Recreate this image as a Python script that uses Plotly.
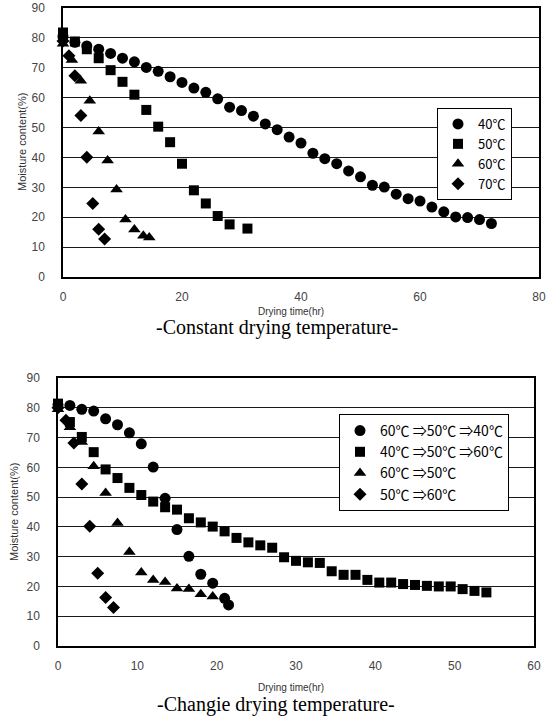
import plotly.graph_objects as go

W, H = 551, 719

# ---------------- Top chart: constant drying temperature ----------------
top_x_ticks = [0, 20, 40, 60, 80]
y_ticks = [0, 10, 20, 30, 40, 50, 60, 70, 80, 90]

t40 = [0, 2, 4, 6, 8, 10, 12, 14, 16, 18, 20, 22, 24, 26, 28, 30, 32, 34, 36,
       38, 40, 42, 44, 46, 48, 50, 52, 54, 56, 58, 60, 62, 64, 66, 68, 70, 72]
m40 = [80.5, 78.5, 77.3, 76.2, 74.8, 73.2, 72.0, 70.1, 68.8, 67.0, 65.1, 63.2,
       61.8, 59.6, 56.8, 55.7, 53.8, 51.2, 49.3, 46.8, 44.8, 41.4, 39.6, 37.9,
       35.5, 33.5, 30.7, 30.1, 27.7, 26.2, 25.4, 23.4, 21.8, 20.1, 19.9, 19.2, 17.9]

t50 = [0, 2, 4, 6, 8, 10, 12, 14, 16, 18, 20, 22, 24, 26, 28, 31]
m50 = [81.8, 78.8, 76.2, 73.2, 69.2, 65.3, 61.0, 55.9, 50.3, 45.1, 37.9, 29.0,
       24.6, 20.4, 17.6, 16.2]

t60 = [0, 1.5, 3, 4.5, 6, 7.5, 9, 10.5, 12, 13.5, 14.5]
m60 = [78.0, 72.6, 65.7, 59.0, 48.7, 39.0, 29.3, 19.2, 15.9, 13.8, 13.2]

t70 = [0, 1, 2, 3, 4, 5, 6, 7]
m70 = [79.0, 74.0, 67.3, 54.0, 40.1, 24.6, 16.0, 12.7]

top_names = ["40℃", "50℃", "60℃", "70℃"]

# ---------------- Bottom chart: changing drying temperature ----------------
bot_x_ticks = [0, 10, 20, 30, 40, 50, 60]

tA = [0, 1.5, 3, 4.5, 6, 7.5, 9, 10.5, 12, 13.5, 15, 16.5, 18, 19.5, 21, 21.5]
mA = [81.0, 80.8, 79.5, 78.9, 76.3, 74.3, 71.6, 67.9, 60.1, 49.6, 39.1, 30.1,
      24.1, 21.1, 16.0, 13.8]

tB = [0, 1.5, 3, 4.5, 6, 7.5, 9, 10.5, 12, 13.5, 15, 16.5, 18, 19.5, 21, 22.5,
      24, 25.5, 27, 28.5, 30, 31.5, 33, 34.5, 36, 37.5, 39, 40.5, 42, 43.5, 45,
      46.5, 48, 49.5, 51, 52.5, 54]
mB = [81.4, 75.2, 70.2, 65.1, 59.3, 56.4, 53.1, 50.7, 48.5, 46.6, 45.8, 42.9,
      41.5, 40.1, 38.5, 36.3, 34.8, 33.8, 33.0, 29.8, 28.6, 28.1, 27.9, 25.1,
      23.9, 23.9, 22.2, 21.3, 21.3, 20.8, 20.5, 20.2, 20.0, 20.0, 19.1, 18.5, 18.0]

tC = [0, 1.5, 3, 4.5, 6, 7.5, 9, 10.5, 12, 13.5, 15, 16.5, 18, 19.5]
mC = [79.5, 73.5, 68.5, 60.4, 51.4, 41.3, 31.6, 24.7, 22.2, 21.5, 19.3, 19.1,
      17.4, 16.6]

tD = [0, 1, 2, 3, 4, 5, 6, 7]
mD = [80.0, 75.8, 68.2, 54.4, 40.2, 24.4, 16.3, 12.9]

bot_names = ["60℃ ⇒50℃ ⇒40℃", "40℃ ⇒50℃ ⇒60℃", "60℃ ⇒50℃", "50℃ ⇒60℃"]

symbols = ["circle", "square", "triangle-up", "diamond"]
sizes = [11, 10, 11, 10]

fig = go.Figure()

for xs, ys, name, sym, sz in zip([t40, t50, t60, t70], [m40, m50, m60, m70],
                                 top_names, symbols, sizes):
    fig.add_trace(go.Scatter(x=xs, y=ys, name=name, mode="markers",
                             marker=dict(symbol=sym, size=sz, color="black"),
                             cliponaxis=False, xaxis="x", yaxis="y",
                             legend="legend"))

for xs, ys, name, sym, sz in zip([tA, tB, tC, tD], [mA, mB, mC, mD],
                                 bot_names, symbols, sizes):
    fig.add_trace(go.Scatter(x=xs, y=ys, name=name, mode="markers",
                             marker=dict(symbol=sym, size=sz, color="black"),
                             cliponaxis=False, xaxis="x2", yaxis="y2",
                             legend="legend2"))

tickfont = dict(family="Liberation Sans, Arial", size=12, color="#444")


def xax(domain, rng, ticks, anchor):
    return dict(domain=domain, range=rng, tickvals=ticks, anchor=anchor,
                showgrid=False, zeroline=False, showline=True, linecolor="black",
                linewidth=1.5, mirror=True, ticks="outside", ticklen=8,
                tickcolor="rgba(0,0,0,0)", tickfont=tickfont, automargin=False,
                ticklabeloverflow="allow")


def yax(domain, anchor):
    return dict(domain=domain, range=[0, 90], tickvals=y_ticks, anchor=anchor,
                showgrid=True, gridcolor="#1a1a1a", gridwidth=1, zeroline=False,
                showline=True, linecolor="black", linewidth=1.5, mirror=True,
                ticks="outside", ticklen=14, tickcolor="rgba(0,0,0,0)",
                tickfont=tickfont, automargin=False, ticklabeloverflow="allow")


def px(x):
    return min(1.0, max(0.0, x / W))


def py(y):
    return min(1.0, max(0.0, 1 - y / H))


legfont = dict(family="Noto Sans CJK KR", color="black")

fig.update_layout(
    width=W, height=H,
    margin=dict(l=0, r=0, t=0, b=0),
    paper_bgcolor="white", plot_bgcolor="white",
    xaxis=xax([px(63), px(539)], [0, 80], top_x_ticks, "y"),
    yaxis=yax([py(277), py(8)], "x"),
    xaxis2=xax([px(58), px(534)], [0, 60], bot_x_ticks, "y2"),
    yaxis2=yax([py(646), py(378)], "x2"),
    legend=dict(x=px(437), y=py(108), xanchor="left", yanchor="top",
                bgcolor="white", bordercolor="black", borderwidth=1,
                font=dict(size=13, **legfont), itemwidth=30,
                tracegroupgap=0),
    legend2=dict(x=px(339), y=py(414), xanchor="left", yanchor="top",
                 bgcolor="white", bordercolor="black", borderwidth=1,
                 font=dict(size=14, **legfont), itemwidth=30,
                 tracegroupgap=0),
    showlegend=True,
)

annos = [
    dict(text="Moisture content(%)", x=px(22), y=py(142), textangle=-90,
         font=dict(family="Liberation Sans, Arial", size=11, color="#333")),
    dict(text="Moisture content(%)", x=px(14), y=py(512), textangle=-90,
         font=dict(family="Liberation Sans, Arial", size=11, color="#333")),
    dict(text="Drying time(hr)", x=px(291), y=py(311),
         font=dict(family="Liberation Sans, Arial", size=10, color="#333")),
    dict(text="Drying time(hr)", x=px(291), y=py(687),
         font=dict(family="Liberation Sans, Arial", size=10, color="#333")),
    dict(text="-Constant drying temperature-", x=px(277), y=py(328),
         font=dict(family="Liberation Serif, Times New Roman", size=20, color="black")),
    dict(text="-Changie drying temperature-", x=px(276), y=py(704),
         font=dict(family="Liberation Serif, Times New Roman", size=20, color="black")),
]
for a in annos:
    fig.add_annotation(xref="paper", yref="paper", showarrow=False,
                       xanchor="center", yanchor="middle", **a)

# remove the default 8px page margin so the figure fills the 551x719 window
fig.write_html("out.html",
               config={"displayModeBar": False},
               post_script="document.body.style.margin='0';"
                           "document.body.style.overflow='hidden';")
